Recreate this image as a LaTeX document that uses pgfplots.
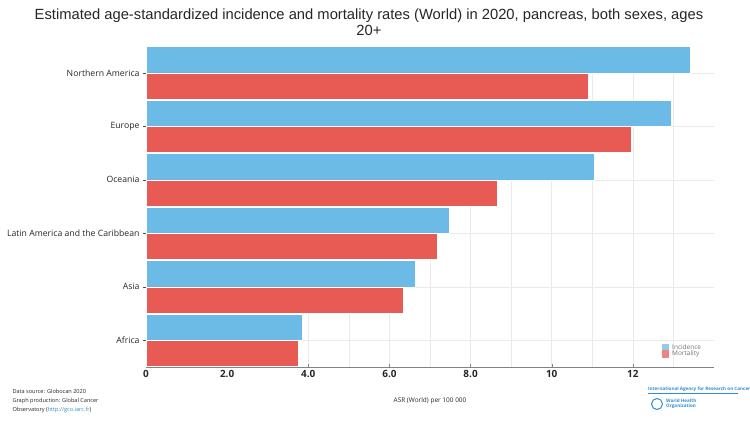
\documentclass[border=0pt]{standalone}
\usepackage{pgfplots}
\pgfplotsset{compat=1.18}
\usepackage{fontspec}
\setmainfont{Open Sans}
\newfontfamily\titlefont{Liberation Sans}
\definecolor{incblue}{RGB}{108,187,230}
\definecolor{mortred}{RGB}{232,91,85}
\definecolor{gridgray}{RGB}{234,234,234}
\definecolor{linkblue}{RGB}{50,140,205}
\definecolor{axisgray}{RGB}{130,130,130}
\begin{document}
\begin{tikzpicture}[x=1bp,y=1bp]
\useasboundingbox (0,0) rectangle (750,422);
\node[anchor=center, align=center, font=\titlefont\fontsize{14.8}{16}\selectfont, text=black!85] at (369,400)
  {Estimated age-standardized incidence and mortality rates (World) in 2020, pancreas, both sexes, ages\\20+};
\begin{axis}[
  at={(146bp,55bp)}, anchor=south west,
  scale only axis, width=568bp, height=321bp,
  xmin=0, xmax=14, ymin=-0.5, ymax=5.5, y dir=reverse,
  xbar, bar width=0.49,
  axis x line*=bottom, axis y line*=left,
  x axis line style={draw=axisgray, line width=0.8pt, -},
  y axis line style={draw=black!70, line width=0.6pt, -},
  xtick={0,2,4,6,8,10,12},
  xticklabels={0,2.0,4.0,6.0,8.0,10,12},
  minor xtick={1,3,5,7,9,11,13},
  ytick={0,1,2,3,4,5},
  yticklabels={Northern America,Europe,Oceania,Latin America and the Caribbean,Asia,Africa},
  xmajorgrids, xminorgrids, ymajorgrids,
  grid style={draw=gridgray, line width=0.5pt},
  minor grid style={draw=gridgray, line width=0.5pt},
  major tick length=3bp, minor tick length=0pt,
  x tick style={draw=axisgray},
  y tick style={draw=black!70},
  xtick align=inside, ytick align=outside,
  xticklabel style={font=\fontsize{10}{12}\selectfont\bfseries, text=black!85, yshift=0bp},
  yticklabel style={font=\fontsize{8.7}{10}\selectfont, text=black!85},
  xlabel={ASR (World) per 100 000},
  xlabel style={font=\fontsize{6.5}{8}\selectfont, text=black!85, yshift=-13bp},
  legend style={font=\fontsize{6.5}{8}\selectfont, text=black!55, draw=none, fill=none,
    at={(rel axis cs:0.902,0.08)}, anchor=north west, row sep=-2.5bp,
    nodes={inner sep=1.2bp},
    /tikz/every odd column/.append style={column sep=2.5bp}},
  legend cell align=left,
]
\addplot+[xbar, bar shift=-0.245, fill=incblue, draw=white, line width=0.5pt,
  legend image code/.code={\fill[incblue!75] (-1bp,-3bp) rectangle (5.5bp,3.5bp);}]
  coordinates {(13.41,0) (12.95,1) (11.04,2) (7.48,3) (6.64,4) (3.85,5)};
\addlegendentry{Incidence}
\addplot+[xbar, bar shift=0.245, fill=mortred, draw=white, line width=0.5pt,
  legend image code/.code={\fill[mortred!75] (-1bp,-3bp) rectangle (5.5bp,3.5bp);}]
  coordinates {(10.90,0) (11.96,1) (8.66,2) (7.18,3) (6.35,4) (3.76,5)};
\addlegendentry{Mortality}
\end{axis}
\node[anchor=north west, align=left, font=\fontsize{5.6}{9}\selectfont, text=black!85] at (9,36)
  {Data source: Globocan 2020\\Graph production: Global Cancer\\Observatory (\textcolor{linkblue}{http://gco.iarc.fr})};
\node[anchor=south west, font=\fontsize{4.6}{5}\selectfont\bfseries, text=linkblue, inner sep=0pt] at (648,30) {International Agency for Research on Cancer};
\draw[linkblue, line width=0.4pt] (648,28.5) -- (738,28.5);
\draw[linkblue, line width=1pt] (657,18) circle (5.5);
\node[anchor=west, align=left, font=\fontsize{4.6}{5}\selectfont\bfseries, text=linkblue, inner sep=0pt] at (666,18) {World Health\\Organization};
\end{tikzpicture}
\end{document}
